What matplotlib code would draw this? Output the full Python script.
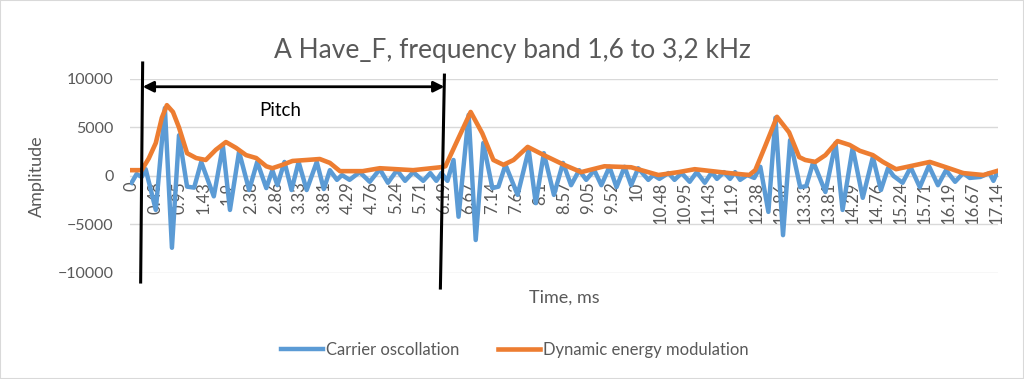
"""
A Have_F, pasmo 1,6-3,2 kHz: oscylacja nośna + obwiednia energii,
z zaznaczonym okresem tonu podstawowego (Pitch).
"""

import matplotlib
matplotlib.use("Agg")
import matplotlib.pyplot as plt
from matplotlib.patches import Rectangle

# ==== DANE ====
TICK_LABELS = ["0", "0.48", "0.95", "1.43", "1.9", "2.38", "2.86", "3.33", "3.81",
               "4.29", "4.76", "5.24", "5.71", "6.19", "6.67", "7.14", "7.62", "8.1",
               "8.57", "9.05", "9.52", "10", "10.48", "10.95", "11.43", "11.9",
               "12.38", "12.86", "13.33", "13.81", "14.29", "14.76", "15.24",
               "15.71", "16.19", "16.67", "17.14"]

CARRIER_T = [0.00, 0.10, 0.20, 0.28, 0.48, 0.66, 0.80, 0.94, 1.10, 1.24, 1.38, 1.63,
             1.81, 1.95, 2.13, 2.33, 2.49, 2.67, 2.79, 2.89, 3.03, 3.17, 3.31, 3.47,
             3.67, 3.81, 3.93, 4.07, 4.17, 4.32, 4.52, 4.72, 4.92, 5.08, 5.26, 5.42,
             5.58, 5.78, 5.92, 6.04, 6.14, 6.26, 6.38, 6.48, 6.68, 6.82, 6.97, 7.15,
             7.27, 7.41, 7.65, 7.87, 8.01, 8.17, 8.37, 8.55, 8.71, 8.87, 9.01, 9.17,
             9.31, 9.47, 9.61, 9.77, 9.90, 10.04, 10.24, 10.34, 10.46, 10.64, 10.76,
             10.90, 11.06, 11.20, 11.36, 11.50, 11.60, 11.74, 11.86, 11.96, 12.06,
             12.20, 12.34, 12.46, 12.62, 12.76, 12.91, 13.05, 13.25, 13.37, 13.51,
             13.75, 13.95, 14.09, 14.29, 14.49, 14.69, 14.85, 14.99, 15.10, 15.28,
             15.44, 15.62, 15.80, 15.98, 16.14, 16.32, 16.48, 16.61, 16.82, 17.00,
             17.08, 17.14]
CARRIER_A = [-700, 200, -100, 700, -3500, 7000, -7400, 4200, -1100, -1200, 1450, -2100,
             3100, -3500, 2500, -1450, 1450, -1250, 600, -950, 1450, -1450, 1450, -1450,
             1450, -1350, 600, -400, 100, -400, 400, -600, 700, -700, 600, -500,
             400, -500, 300, -500, 300, -500, 1650, -4200, 6300, -6600, 3400, -1250,
             -1100, 1150, -1950, 2700, -2800, 2350, -1950, 1350, -950, 600, -400, 600,
             -950, 950, -1150, 950, -950, 800, -400, 100, -300, 300, -400,
             300, -600, 400, -700, 400, -300, 400, -300, 400, -400,
             100, -200, 950, -3700, 6000, -6100, 3700, -1150, -1050, 1450,
             -1650, 3400, -3500, 2900, -2250, 1950, -1450, 800, 0, -700,
             900, -1150, 1050, -950, 600, -600, 300, -200, -100, 300,
             -500, 200]

ENVELOPE_T = [0.00, 0.20, 0.34, 0.48, 0.60, 0.70, 0.82, 0.94, 1.10, 1.28, 1.47, 1.67,
              1.87, 2.07, 2.27, 2.47, 2.67, 2.79, 2.99, 3.19, 3.47, 3.73, 3.93, 4.13,
              4.58, 4.92, 5.58, 6.12, 6.22, 6.46, 6.72, 6.95, 7.17, 7.37, 7.57, 7.85,
              8.17, 8.57, 8.91, 9.37, 9.90, 10.44, 10.84, 11.16, 11.84, 12.24, 12.36,
              12.55, 12.79, 13.03, 13.23, 13.35, 13.55, 13.75, 13.99, 14.23, 14.43,
              14.69, 14.89, 15.15, 15.42, 15.82, 16.14, 16.48, 16.88, 17.14]
ENVELOPE_A = [600, 600, 1800, 3400, 6000, 7300, 6600, 5000, 2350, 1850, 1650, 2700,
              3500, 2900, 2150, 1850, 1000, 800, 1150, 1550, 1650, 1750, 1350, 500,
              500, 800, 600, 900, 1000, 3700, 6600, 4400, 1650, 1150, 1650, 3000,
              2150, 1150, 400, 1000, 900, 100, 400, 700, 300, 100, 600,
              3000, 6100, 4500, 1950, 1650, 1450, 2150, 3600, 3200, 2600,
              2150, 1450, 700, 1000, 1450, 900, 300, 100, 500]

# okres tonu podstawowego (ms)
PITCH_START = 0.22
PITCH_END = 6.20

# ==== USTAWIENIA ====
BLUE = "#5B9BD5"
ORANGE = "#ED7D31"
GRAY_TXT = "#595959"
GRID = "#D9D9D9"
plt.rcParams["font.family"] = ["Lato", "DejaVu Sans"]

fig = plt.figure(figsize=(10.24, 3.79), dpi=100)
ax = fig.add_axes([0.127, 0.2797, 0.8476, 0.5119])

ax.plot(CARRIER_T, CARRIER_A, color=BLUE, linewidth=3.2, solid_joinstyle="round",
        label="Carrier oscollation", zorder=3)
ax.plot(ENVELOPE_T, ENVELOPE_A, color=ORANGE, linewidth=3.3, solid_joinstyle="round",
        label="Dynamic energy modulation", zorder=4)

# Osie
ax.set_xlim(-0.03, 17.17)
ax.set_ylim(-10000, 10000)
ax.set_yticks([-10000, -5000, 0, 5000, 10000])
ax.set_xticks([float(s) for s in TICK_LABELS])
ax.set_xticklabels(TICK_LABELS)
ax.tick_params(axis="x", length=0, pad=4, labelsize=12, labelcolor=GRAY_TXT,
               labelrotation=90)
plt.setp(ax.get_xticklabels(), va="top", ha="center")
ax.tick_params(axis="y", length=0, pad=12, labelsize=11.5, labelcolor=GRAY_TXT)
ax.grid(axis="y", color=GRID, linewidth=1.0)
ax.set_axisbelow(True)
for side in ["left", "right", "top"]:
    ax.spines[side].set_visible(False)
ax.spines["bottom"].set_position(("data", 0))
ax.spines["bottom"].set_color(GRID)

ax.set_ylabel("Amplitude", fontsize=13, color=GRAY_TXT)
ax.yaxis.set_label_coords(-0.098, 0.5)
ax.set_xlabel("Time, ms", fontsize=13, color=GRAY_TXT)
ax.xaxis.set_label_coords(0.5, -0.085)

fig.suptitle("A Have_F, frequency band 1,6 to 3,2 kHz", fontsize=19,
             color=GRAY_TXT, y=0.866, va="center")

# Zaznaczenie okresu (Pitch)
ax.plot([PITCH_START, PITCH_START - 0.04], [11650, -10930], color="black",
        linewidth=2.2, clip_on=False, zorder=6)
ax.plot([PITCH_END, PITCH_END - 0.08], [10400, -11550], color="black",
        linewidth=2.2, clip_on=False, zorder=6)
ax.annotate("", xy=(PITCH_START, 9200), xytext=(PITCH_END, 9200),
            arrowprops=dict(arrowstyle="<|-|>", color="black", lw=2.0,
                            mutation_scale=16, shrinkA=0, shrinkB=0),
            annotation_clip=False, zorder=6)
ax.text(2.95, 6800, "Pitch", fontsize=13.5, color="black", ha="center", va="center")

fig.legend(loc="center", bbox_to_anchor=(0.503, 0.077), ncol=2, frameon=False,
           fontsize=12, labelcolor=GRAY_TXT, handlelength=2.5,
           handletextpad=0.2, columnspacing=2.3)

fig.patches.append(Rectangle((0, 0), 1, 1, transform=fig.transFigure,
                             fill=False, edgecolor=GRID, linewidth=1.5))

fig.savefig("out.png", dpi=100)
